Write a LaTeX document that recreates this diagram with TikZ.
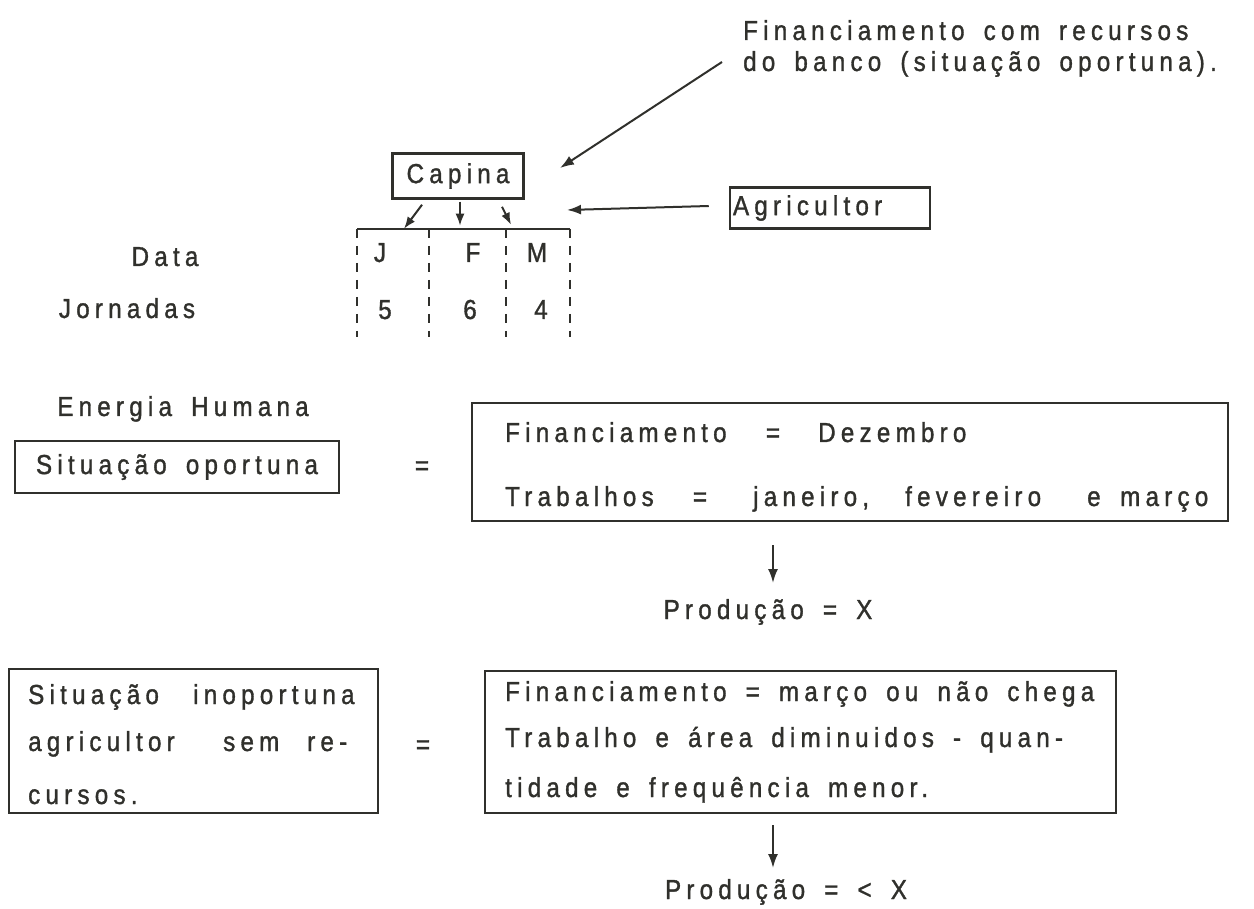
\documentclass[tikz,border=0pt]{standalone}
\usepackage{fontspec}
\setmainfont{Liberation Sans}[LetterSpace=19, FakeStretch=0.88, WordSpace=1.6, FakeBold=1.2]
\usetikzlibrary{arrows.meta}
\definecolor{ink}{RGB}{48,48,44}
\begin{document}
\begin{tikzpicture}[x=1pt,y=-1pt,
  every node/.style={text=ink, inner sep=0pt, font=\fontsize{27.5}{32}\selectfont},
  frame/.style={draw=ink, line width=2.5pt, rectangle},
  tip/.style={draw=ink, line width=2pt, -{Latex[length=14pt,width=10pt]}},
  smalltip/.style={draw=ink, line width=2pt, -{Latex[length=12pt,width=9pt]}},
  dashcol/.style={draw=ink, line width=2pt, dash pattern=on 9pt off 8pt},
  lbl/.style={anchor=base west},
  ctr/.style={anchor=base}]
\fill[white] (0,0) rectangle (1254,909);
\useasboundingbox (0,0) rectangle (1254,909);

% note on bank financing
\node[lbl] (topA) at (743,40) {Financiamento com recursos};
\node[lbl] (topB) at (743,71) {do banco (situação oportuna).};
\coordinate (leadS) at (722,62);
\coordinate (leadT) at (560,168);
\draw[tip] (leadS) -- (leadT);

% task and farmer
\node[frame, minimum width=131pt, minimum height=45pt] (capina) at (458,176) {Capina};
\node[frame, minimum width=200pt, minimum height=41pt, text width=194pt, align=left] (agri) at (830,208) {Agricultor};
\coordinate (agriT) at (567,210);
\draw[tip] ([xshift=-20pt,yshift=2pt]agri.west) -- (agriT);

% month table
\coordinate (c0) at (357,229);
\coordinate (c1) at (429,229);
\coordinate (c2) at (506,229);
\coordinate (c3) at (570,229);
\draw[ink, line width=2.5pt] (c0) -- (c3);
\foreach \c in {c0,c1,c2,c3} \draw[dashcol] (\c) -- ++(0,108);

\draw[smalltip] (capina.south) ++(-36,5) -- ++(-18,24);
\draw[smalltip] (capina.south) ++(2,2) -- ++(0,24);
\draw[smalltip] (capina.south) ++(44,7) -- ++(9,18);

\node[ctr] (data) at (165,266) {Data};
\node[ctr] (jorn) at (127,318) {Jornadas};
\node[ctr] (mJ) at (380,262) {J};
\node[ctr] (mF) at (473,262) {F};
\node[ctr] (mM) at (537,262) {M};
\node[ctr] (n5) at (385,319) {5};
\node[ctr] (n6) at (470,319) {6};
\node[ctr] (n4) at (541,319) {4};

% timely situation
\node[ctr] (energ) at (183,416) {Energia Humana};
\node[frame, minimum width=324pt, minimum height=52pt] (opor) at (177,467) {Situação oportuna};
\node (eqA) at (422,468) {=};
\node[frame, minimum width=756pt, minimum height=118pt] (box1) at (850,462) {};
\node[lbl] (f1) at (505,442) {Financiamento};
\node[ctr] (e1) at (773,442) {=};
\node[lbl] (d1) at (818,442) {Dezembro};
\node[lbl] (w1) at (505,506) {Trabalhos};
\node[ctr] (e2) at (700,506) {=};
\node[lbl] (j1) at (753,506) {janeiro,};
\node[lbl] (j2) at (905,506) {fevereiro};
\node[lbl] (j3) at (1087,506) {e};
\node[lbl] (j4) at (1120,506) {março};
\coordinate (a1s) at (773,545);
\coordinate (a1e) at (773,583);
\draw[tip] (a1s) -- (a1e);
\node[ctr] (prod1) at (768,619) {Produção = X};

% untimely situation
\node[frame, minimum width=369pt, minimum height=144pt] (inop) at (193.5,741) {};
\node[lbl] (i1a) at (28,704) {Situação};
\node[lbl] (i1b) at (193,704) {inoportuna};
\node[lbl] (i2a) at (28,751) {agricultor};
\node[lbl] (i2b) at (223,751) {sem};
\node[lbl] (i2c) at (307,751) {re-};
\node[lbl] (i3) at (28,804) {cursos.};
\node (eqB) at (423,747) {=};
\node[frame, minimum width=631pt, minimum height=142pt] (box2) at (800.5,742) {};
\node[lbl] (g1) at (505,701) {Financiamento = março ou não chega};
\node[lbl] (g2) at (505,747) {Trabalho e área diminuidos - quan-};
\node[lbl] (g3) at (505,797) {tidade e frequência menor.};
\coordinate (a2s) at (773,825);
\coordinate (a2e) at (773,868);
\draw[tip] (a2s) -- (a2e);
\node[ctr] (prod2) at (786,899) {Produção = < X};
\end{tikzpicture}
\end{document}
